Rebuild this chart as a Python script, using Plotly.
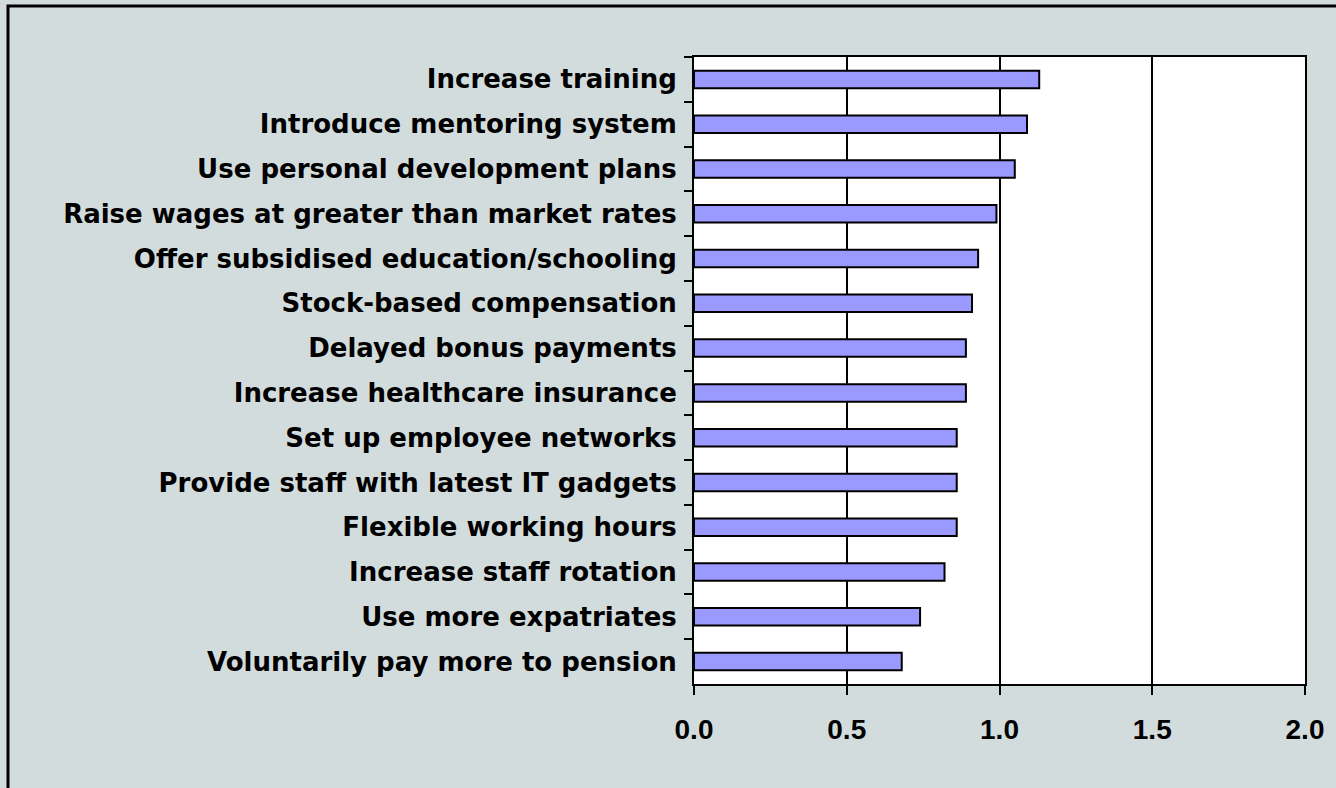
import plotly.graph_objects as go

categories = [
    "Increase training",
    "Introduce mentoring system",
    "Use personal development plans",
    "Raise wages at greater than market rates",
    "Offer subsidised education/schooling",
    "Stock-based compensation",
    "Delayed bonus payments",
    "Increase healthcare insurance",
    "Set up employee networks",
    "Provide staff with latest IT gadgets",
    "Flexible working hours",
    "Increase staff rotation",
    "Use more expatriates",
    "Voluntarily pay more to pension",
]
values = [1.13, 1.09, 1.05, 0.99, 0.93, 0.91, 0.89, 0.89, 0.86, 0.86, 0.86, 0.82, 0.74, 0.68]
x_ticks = [0.0, 0.5, 1.0, 1.5, 2.0]
x_tick_labels = ["0.0", "0.5", "1.0", "1.5", "2.0"]

W, H = 1336, 788
L, R, T, B = 694, 31, 57, 104
pw, ph = W - L - R, H - T - B

def px_x(p):
    return (p - L) / pw

def px_y(p):
    return (H - B - p) / ph

fig = go.Figure(
    go.Bar(
        x=values,
        y=categories,
        orientation="h",
        marker=dict(color="#9999FF", line=dict(color="black", width=2)),
        hoverinfo="skip",
    )
)

fig.update_layout(
    width=W,
    height=H,
    margin=dict(l=L, r=R, t=T, b=B, pad=0),
    paper_bgcolor="#D3DCDD",
    plot_bgcolor="white",
    bargap=0.61,
    showlegend=False,
    shapes=[
        dict(
            type="rect",
            xref="paper",
            yref="paper",
            x0=px_x(8),
            x1=px_x(1345),
            y0=px_y(800),
            y1=px_y(6),
            line=dict(color="black", width=3),
            fillcolor="rgba(0,0,0,0)",
            layer="below",
        )
    ],
)

fig.update_xaxes(
    range=[0, 2.0],
    tickvals=x_ticks,
    ticktext=x_tick_labels,
    ticks="outside",
    ticklen=9,
    tickwidth=2,
    tickcolor="black",
    showline=True,
    linecolor="black",
    linewidth=2,
    mirror=True,
    showgrid=True,
    gridcolor="black",
    gridwidth=2,
    zeroline=False,
    tickfont=dict(family="Liberation Sans, Arial, sans-serif", size=28, color="black", weight="bold"),
    ticklabelstandoff=10,
    fixedrange=True,
)

fig.update_yaxes(
    autorange="reversed",
    tickson="boundaries",
    ticks="outside",
    ticklen=8,
    tickwidth=2,
    tickcolor="black",
    showline=True,
    linecolor="black",
    linewidth=2,
    mirror=True,
    showgrid=False,
    tickfont=dict(family="DejaVu Sans, sans-serif", size=26, color="black", weight="bold"),
    ticklabelstandoff=10,
    fixedrange=True,
)

fig.write_html("out.html", config={"displayModeBar": False})
